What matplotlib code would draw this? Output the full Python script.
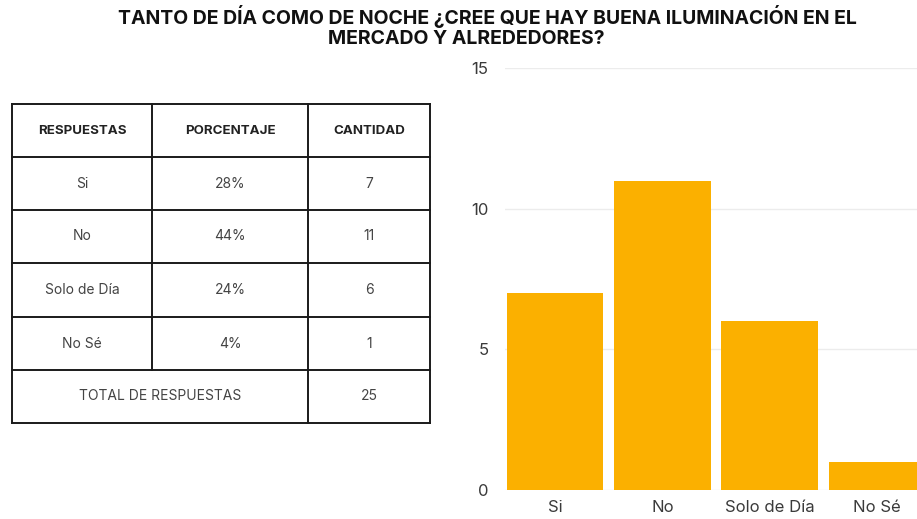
import matplotlib.pyplot as plt
from matplotlib.lines import Line2D

# survey answers
respuestas = ["Si", "No", "Solo de Día", "No Sé"]
cantidades = [7, 11, 6, 1]
porcentajes = ["28%", "44%", "24%", "4%"]
total = 25

titulo_1 = "TANTO DE DÍA COMO DE NOCHE ¿CREE QUE HAY BUENA ILUMINACIÓN EN EL"
titulo_2 = "MERCADO Y ALREDEDORES?"
encabezados = ["RESPUESTAS", "PORCENTAJE", "CANTIDAD"]

plt.rcParams['font.family'] = ['Inter', 'DejaVu Sans']

W, H = 917, 519
fig = plt.figure(figsize=(W / 100, H / 100), dpi=100)
fig.patch.set_facecolor("white")

# title, two centred lines
fig.text(487 / W, 1 - 16 / H, titulo_1, ha="center", va="center",
         fontsize=14, fontweight="bold", color="#111111")
fig.text(466 / W, 1 - 39 / H, titulo_2, ha="center", va="center",
         fontsize=14, fontweight="bold", color="#111111")

# ---- table on the left (pixel coordinates) ----
tab = fig.add_axes([0, 0, 1, 1])
tab.set_xlim(0, W)
tab.set_ylim(H, 0)
tab.axis("off")

col_x = [12, 152, 308, 430]
row_y = [104, 157, 210, 263, 317, 370, 423]
lc = "#1a1a1a"
lw = 1.4

for y in row_y:
    tab.add_line(Line2D([col_x[0], col_x[-1]], [y, y], color=lc, lw=lw))
for x in (col_x[0], col_x[2], col_x[3]):
    tab.add_line(Line2D([x, x], [row_y[0], row_y[-1]], color=lc, lw=lw))
tab.add_line(Line2D([col_x[1], col_x[1]], [row_y[0], row_y[-2]], color=lc, lw=lw))

centres = [(col_x[i] + col_x[i + 1]) / 2 for i in range(3)]
hy = (row_y[0] + row_y[1]) / 2
for cx, txt in zip(centres, encabezados):
    tab.text(cx, hy, txt, ha="center", va="center", fontsize=9.6,
             fontweight="bold", color="#222222")

for i, (r, p, c) in enumerate(zip(respuestas, porcentajes, cantidades)):
    cy = (row_y[i + 1] + row_y[i + 2]) / 2
    for cx, txt in zip(centres, [r, p, str(c)]):
        tab.text(cx, cy, txt, ha="center", va="center", fontsize=10, color="#444444")

cy = (row_y[-2] + row_y[-1]) / 2
tab.text((col_x[0] + col_x[2]) / 2, cy, "TOTAL DE RESPUESTAS", ha="center",
         va="center", fontsize=10, color="#444444")
tab.text(centres[2], cy, str(total), ha="center", va="center", fontsize=10,
         color="#444444")

# ---- bar chart on the right ----
left, right, top, bottom = 505, 917, 68, 490
ax = fig.add_axes([left / W, 1 - bottom / H, (right - left) / W, (bottom - top) / H])
x = range(len(respuestas))
ax.bar(x, cantidades, width=0.9, color="#FBB000", zorder=2)
ax.set_ylim(0, 15)
ax.set_xlim(-0.465, 3.37)
ax.set_yticks([0, 5, 10, 15])
ax.set_xticks(list(x))
ax.set_xticklabels(respuestas)
ax.grid(axis="y", color="#ececec", lw=1, zorder=0)
for s in ax.spines.values():
    s.set_visible(False)
ax.tick_params(length=0, labelsize=12, labelcolor="#3a3a3a")
ax.tick_params(axis="y", pad=12)
ax.tick_params(axis="x", pad=7)

fig.savefig("out.png", dpi=100, facecolor="white")
